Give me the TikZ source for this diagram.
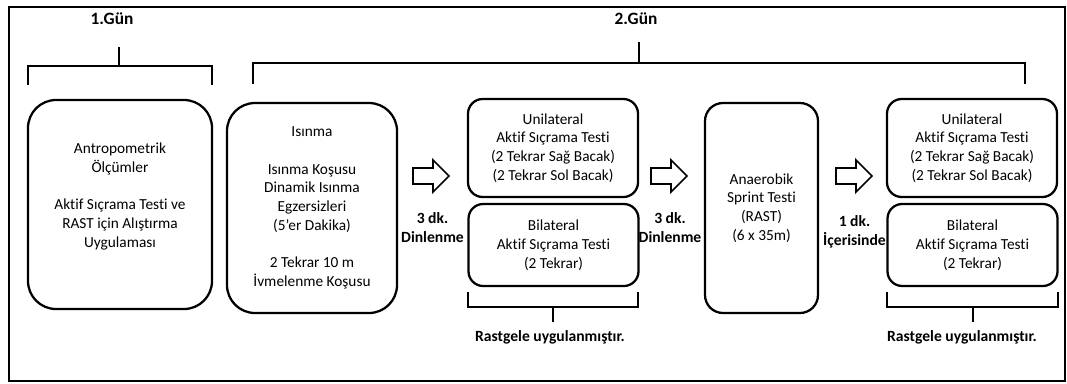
\documentclass[tikz,border=0pt]{standalone}
\usepackage{fontspec}
\setmainfont{Carlito}[Ligatures={TeX,NoCommon}]
\tikzset{
  fw frame/.style={draw=black, line width=1.5pt},
  fw box/.style={
    draw=black,
    line width=1.7pt,
    align=center,
    inner sep=0pt,
    font=\fontsize{11.5}{14.1}\selectfont
  },
  fw tall box/.style={fw box, rounded corners=21pt, minimum height=157.5pt},
  fw test box/.style={fw box, rounded corners=11pt, minimum width=127.5pt},
  fw bracket/.style={draw=black, line width=1.4pt},
  fw block arrow/.style={draw=black, line width=1.3pt, line join=miter},
  fw day/.style={font=\bfseries\fontsize{13}{15}\selectfont},
  fw note/.style={font=\bfseries\fontsize{11.7}{14.3}\selectfont, align=center}
}

\begin{document}
\begin{tikzpicture}[x=.75pt,y=-.75pt]
  \useasboundingbox (0,0) rectangle (1067,383);
  \draw[fw frame] (9,7) rectangle (1065,381);

  % day headers and their brackets
  \node[fw day] (day1) at (112,19) {1.Gün};
  \node[fw day] (day2) at (636,19) {2.Gün};
  \draw[fw bracket] (28,85) -- (28,66) -- (212,66) -- (212,85);
  \draw[fw bracket] (119,66) -- (119,47);
  \draw[fw bracket] (253,84) -- (253,63) -- (1025,63) -- (1025,84);
  \draw[fw bracket] (639,63) -- (639,42);

  % day 1
  \node[fw tall box, minimum width=138pt, minimum height=156.75pt] (anthro) at (120,204.5)
    {Antropometrik\\Ölçümler\\[14pt]Aktif Sıçrama Testi ve\\RAST için Alıştırma\\Uygulaması\\\mbox{}};

  % day 2
  \node[fw tall box, minimum width=127.5pt] (warmup) at (312,208)
    {Isınma\\[14pt]Isınma Koşusu\\Dinamik Isınma\\Egzersizleri\\(5’er Dakika)\\[14pt]2 Tekrar 10 m\\İvmelenme Koşusu};
  \node[fw test box, minimum height=73.5pt] (uni1) at (553,148)
    {Unilateral\\Aktif Sıçrama Testi\\(2 Tekrar Sağ Bacak)\\(2 Tekrar Sol Bacak)};
  \node[fw test box, minimum height=61.5pt] (bil1) at (553.5,245)
    {Bilateral\\Aktif Sıçrama Testi\\(2 Tekrar)};
  \node[fw tall box, rounded corners=13.5pt, minimum width=84.75pt] (rast) at (761.5,208)
    {Anaerobik\\Sprint Testi\\(RAST)\\(6 x 35m)};
  \node[fw test box, minimum height=73.5pt] (uni2) at (972,148)
    {Unilateral\\Aktif Sıçrama Testi\\(2 Tekrar Sağ Bacak)\\(2 Tekrar Sol Bacak)};
  \node[fw test box, minimum height=61.5pt] (bil2) at (972.5,245)
    {Bilateral\\Aktif Sıçrama Testi\\(2 Tekrar)};

  % block arrows between the steps
  \foreach \tip in {449,687,872}
    \draw[fw block arrow] (\tip-36,168) -- (\tip-16,168) -- (\tip-16,160) -- (\tip,176)
      -- (\tip-16,192) -- (\tip-16,184) -- (\tip-36,184) -- cycle;

  \node[fw note] (rest1) at (432.5,227.5) {3 dk.\\Dinlenme};
  \node[fw note] (rest2) at (670,227.5) {3 dk.\\Dinlenme};
  \node[fw note] (within) at (854.5,232) {1 dk.\\İçerisinde};

  % random order brackets
  \draw[fw bracket] (468,292) -- (468,307) -- (638,307) -- (638,292);
  \draw[fw bracket] (553,307) -- (553,322);
  \draw[fw bracket] (887,292) -- (887,307) -- (1058,307) -- (1058,292);
  \draw[fw bracket] (973,307) -- (973,322);
  \node[fw note] (rand1) at (550,337) {Rastgele uygulanmıştır.};
  \node[fw note] (rand2) at (962,337) {Rastgele uygulanmıştır.};
\end{tikzpicture}
\end{document}
